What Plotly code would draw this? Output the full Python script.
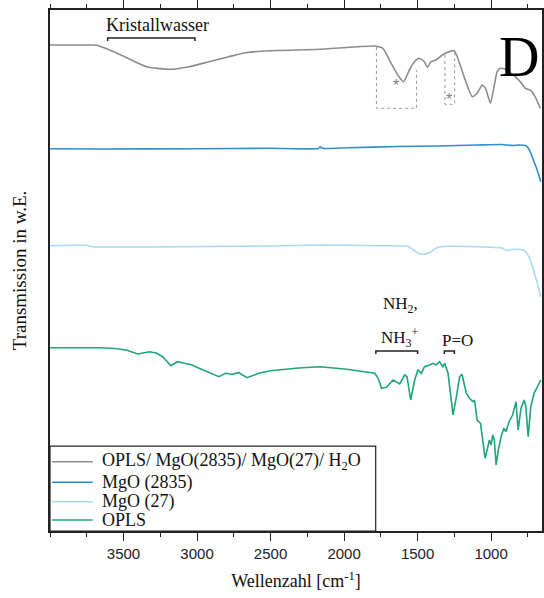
import plotly.graph_objects as go

# FTIR spectra (transmission, arbitrary units, vertically stacked)
wn_mix = [4000, 3730, 3682, 3595, 3493, 3345, 3189, 3054, 2919, 2784, 2669, 2500, 2162, 1905,
          1791, 1736, 1680, 1635, 1595, 1556, 1522, 1489, 1455, 1432, 1410, 1376, 1331, 1286,
          1252, 1230, 1184, 1128, 1095, 1061, 1038, 1005, 982, 959, 937, 903, 836, 802, 768,
          734, 701, 666]
t_mix = [486, 486, 485.7, 481, 474.3, 464.3, 461.7, 464.3, 469.3, 474.3, 478.3, 480.3, 481.7, 484.3,
         485, 482.7, 467.7, 456, 449.3, 461, 469.3, 472.7, 469.3, 463.7, 469.3, 471, 476, 479.3,
         480.3, 474.3, 454.3, 434.3, 437.7, 446, 442.7, 427.7, 442.7, 459.3, 462.7, 461.7, 454.3,
         449.3, 442.7, 441, 434.3, 422.7]

wn_mgo2835 = [4000, 3662, 2986, 2500, 2176, 2162, 2149, 1973, 1635, 1365, 1095, 926, 858, 811,
              766, 743, 721, 687, 662]
t_mgo2835 = [382.3, 382, 382.3, 382.7, 382.5, 384.3, 382.7, 383.3, 384.5, 385, 386, 386.5, 385.5,
             386, 385.5, 382, 374.3, 361, 349.3]

wn_mgo27 = [4000, 3743, 3716, 3324, 2500, 2162, 1770, 1568, 1527, 1493, 1446, 1412, 1365, 1297,
            1095, 926, 892, 858, 804, 770, 743, 698, 662]
t_mgo27 = [285.3, 285.5, 284.3, 284, 285, 286, 285.3, 284.7, 281, 277.5, 277, 279, 283.5, 284.7,
           284.3, 283, 280.5, 281.5, 281.5, 280, 274.3, 254.3, 234.3]

wn_opls = [4000, 3662, 3561, 3482, 3403, 3324, 3277, 3234, 3178, 3133, 3088, 3034, 2986, 2919,
           2851, 2806, 2761, 2716, 2660, 2581, 2500, 2311, 2162, 1982, 1838, 1791, 1768, 1745,
           1712, 1667, 1622, 1588, 1572, 1547, 1520, 1498, 1475, 1453, 1419, 1397, 1374, 1351,
           1329, 1316, 1293, 1259, 1236, 1214, 1198, 1180, 1169, 1147, 1124, 1113, 1095, 1072,
           1056, 1041, 1022, 1012, 1000, 989, 978, 966, 951, 932, 914, 899, 878, 854, 831, 816,
           797, 775, 764, 748, 730, 708, 662]
t_opls = [183.3, 183.3, 182.5, 181, 177, 179.3, 178, 174.3, 165.3, 169.3, 167.7, 166, 162.7, 158.3,
          154.3, 157.7, 156.7, 158.3, 153.3, 157.7, 160.3, 163, 164.3, 161.7, 159, 157.7, 152.7,
          142.7, 143.7, 151, 147, 156, 154.3, 131, 151, 161, 157.7, 164.3, 166, 167.7, 166, 169.3,
          164.3, 167.7, 157.7, 116, 134.3, 154.3, 156.7, 144.3, 137.7, 132.7, 129.3, 131, 111,
          107.7, 91, 72.7, 84.3, 91, 86, 96, 91, 66, 81, 94.3, 102.7, 99.3, 109.3, 116, 129.3, 101,
          122.7, 131, 124.3, 94.3, 124.3, 137.7, 151]

# name, x, y, colour, smooth the curve?
series = [
    ("OPLS/ MgO(2835)/ MgO(27)/ H<sub>2</sub>O", wn_mix, t_mix, "#8c8c8c", True),
    ("MgO (2835)", wn_mgo2835, t_mgo2835, "#2f8fcc", True),
    ("MgO (27)", wn_mgo27, t_mgo27, "#a8daf4", True),
    ("OPLS", wn_opls, t_opls, "#1fa57c", False),
]

x_ticks = [3500, 3000, 2500, 2000, 1500, 1000]

SERIF = "Liberation Serif, Times New Roman, serif"
SANS = "Liberation Sans, Arial, sans-serif"

fig = go.Figure()
for name, x, y, col, smooth in series:
    line = dict(color=col, width=1.6)
    if smooth:
        line.update(shape="spline", smoothing=0.5)
    fig.add_trace(go.Scatter(x=x, y=y, mode="lines", name=name, line=line, showlegend=False))

shapes = []


def bracket(x0, x1, y, hook=3):
    shapes.append(dict(type="path", xref="x", yref="y",
                       path=f"M {x0},{y - hook} L {x0},{y} L {x1},{y} L {x1},{y - hook}",
                       line=dict(color="#222222", width=1.5)))


def dotted_box(x0, x1, y_bottom, y_left_top, y_right_top):
    shapes.append(dict(type="path", xref="x", yref="y",
                       path=f"M {x0},{y_left_top} L {x0},{y_bottom} L {x1},{y_bottom} L {x1},{y_right_top}",
                       line=dict(color="#9a9a9a", width=1, dash="dot")))


bracket(3608, 3014, 493)
bracket(1784, 1500, 180)
bracket(1318, 1250, 180)
dotted_box(1780, 1507, 422.7, 484, 461)
dotted_box(1314, 1248, 426.7, 476, 480.5)

annotations = [
    dict(x=3270, y=506, text="Kristallwasser", font=dict(family=SERIF, size=18, color="#111")),
    dict(x=1615, y=226, text="NH<sub>2</sub>,", font=dict(family=SERIF, size=17, color="#111")),
    dict(x=1622, y=194, text="NH<sub>3</sub><sup>+</sup>", font=dict(family=SERIF, size=17, color="#111")),
    dict(x=1230, y=191, text="P=O", font=dict(family=SERIF, size=17, color="#111")),
    dict(x=1645, y=445.5, text="*", font=dict(family=SANS, size=16, color="#808080")),
    dict(x=1284, y=432, text="*", font=dict(family=SANS, size=16, color="#808080")),
    dict(x=811, y=474, text="D", font=dict(family=SERIF, size=56, color="#000")),
]
for a in annotations:
    a.update(xref="x", yref="y", showarrow=False)

# Compact legend box in the lower-left corner of the plot area
legend_box = dict(x0=0, x1=0.662, y0=0, y1=0.163)
legend_rows = [0.133, 0.0935, 0.0562, 0.0211]
shapes.append(dict(type="rect", xref="x domain", yref="y domain",
                   fillcolor="white", line=dict(color="#222", width=1.2), layer="above",
                   **legend_box))
for (name, _, _, col, _), ry in zip(series, legend_rows):
    shapes.append(dict(type="line", xref="x domain", yref="y domain",
                       x0=0.004, x1=0.087, y0=ry, y1=ry, layer="above",
                       line=dict(color=col, width=1.6)))
    annotations.append(dict(xref="x domain", yref="y domain", x=0.101, y=ry,
                            xanchor="left", yanchor="middle", showarrow=False, text=name,
                            font=dict(family=SERIF, size=18, color="#111")))

fig.update_layout(
    width=544, height=598,
    margin=dict(l=50, r=0, t=10, b=67),
    paper_bgcolor="white", plot_bgcolor="white",
    shapes=shapes, annotations=annotations,
    showlegend=False,
    xaxis=dict(range=[4000, 654], tickvals=x_ticks, ticks="outside", ticklen=8,
               tickcolor="#222", showline=True, linecolor="#222", linewidth=1.5,
               mirror="ticks", showgrid=False, zeroline=False,
               tickfont=dict(family=SANS, size=15, color="#222"),
               minor=dict(ticks="outside", ticklen=4, tickcolor="#222", dtick=250, showgrid=False),
               title=dict(text="Wellenzahl [cm<sup>-1</sup>]", standoff=14,
                          font=dict(family=SERIF, size=18, color="#111"))),
    yaxis=dict(range=[0, 521], showticklabels=False, ticks="", showgrid=False, zeroline=False,
               showline=True, linecolor="#222", linewidth=1.5, mirror=True,
               title=dict(text="Transmission in w.E.", standoff=17,
                          font=dict(family=SERIF, size=19, color="#111"))),
)

fig.write_html("out.html")
